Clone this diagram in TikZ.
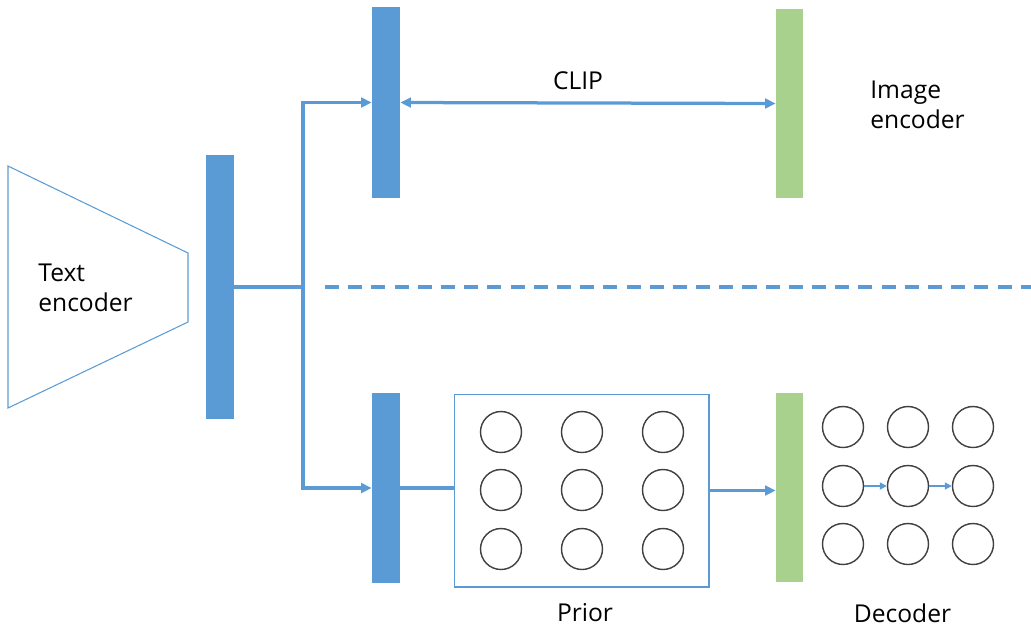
\documentclass[tikz,border=0pt]{standalone}
\usepackage{fontspec}
\setmainfont{Open Sans}
\usetikzlibrary{arrows.meta}

\definecolor{embblue}{HTML}{5B9BD5}
\definecolor{embgreen}{HTML}{A9D18E}
\definecolor{ringgray}{HTML}{404040}

\tikzset{
  px/.style={x=0.02cm,y=-0.02cm},
  bar/.style={rectangle,draw=none,inner sep=0pt,minimum width=0.56cm},
  bluebar/.style={bar,fill=embblue},
  greenbar/.style={bar,fill=embgreen,minimum width=0.54cm},
  conn/.style={draw=embblue,line width=1.85pt},
  tip/.tip={Triangle[length=6pt,width=5.5pt]},
  smalltip/.tip={Triangle[length=4pt,width=4pt]},
  unit/.style={circle,draw=ringgray,line width=0.8pt,minimum size=0.82cm,inner sep=0pt},
  lbl/.style={inner sep=0pt,font=\fontsize{14}{17}\selectfont},
  outline/.style={draw=embblue,line width=0.6pt}
}

\begin{document}
\begin{tikzpicture}[px]
  \useasboundingbox (0,0) rectangle (1031,627);

  % text encoder (trapezium narrowing to the right)
  \coordinate (te1) at (8,166);
  \coordinate (te2) at (188,253);
  \coordinate (te3) at (188,322);
  \coordinate (te4) at (8,408);
  \draw[outline] (te1) -- (te2) -- (te3) -- (te4) -- cycle;
  \node[lbl,anchor=west,align=left] (tetext) at (38,288) {Text\\encoder};

  % embedding bars
  \node[bluebar,minimum height=5.28cm] (temb) at (220,287) {};
  \node[bluebar,minimum height=3.82cm] (clipt) at (386,102.5) {};
  \node[greenbar,minimum height=3.78cm] (clipi) at (789.5,103.5) {};
  \node[bluebar,minimum height=3.8cm] (ptext) at (386,488) {};
  \node[greenbar,minimum height=3.78cm] (pimg) at (789.5,487.5) {};

  % labels
  \node[lbl] (cliplbl) at (578,81) {CLIP};
  \node[lbl,anchor=west,align=left] (ietext) at (870,104.5) {Image\\encoder};
  \node[lbl] (priorlbl) at (585,613) {Prior};
  \node[lbl] (declbl) at (902.5,613) {Decoder};

  % prior network
  \node[rectangle,outline,minimum width=5.1cm,minimum height=3.86cm,inner sep=0pt] (prior) at (581.5,490.5) {};
  \foreach \r/\y in {1/432,2/490,3/549}{
    \foreach \c/\x in {1/501,2/582,3/663}{
      \node[unit] (p\r\c) at (\x,\y) {};
    }
  }

  % decoder units
  \foreach \r/\y in {1/427,2/486,3/544}{
    \foreach \c/\x in {1/843,2/908,3/973}{
      \node[unit] (d\r\c) at (\x,\y) {};
    }
  }
  \draw[draw=embblue,line width=0.9pt,-smalltip] (d21) -- (d22);
  \draw[draw=embblue,line width=0.9pt,-smalltip] (d22) -- (d23);

  % connectors
  \coordinate (split) at (303,287);
  \draw[conn] (temb.east |- split) -- (split);
  \draw[conn,-tip] (split) |- (clipt.west);
  \draw[conn,-tip] (split) |- (ptext.west);
  \draw[conn,tip-tip] (clipt.east) -- (clipi.west);
  \draw[conn] (ptext.east) -- (ptext.east -| prior.west);
  \draw[conn,-tip] (prior.east) -- (prior.east -| pimg.west);

  % separator between the two stages
  \coordinate (sepL) at (325,287);
  \coordinate (sepR) at (1031,287);
  \draw[conn,dash pattern=on 8pt off 5.2pt] (sepL) -- (sepR);
\end{tikzpicture}
\end{document}
